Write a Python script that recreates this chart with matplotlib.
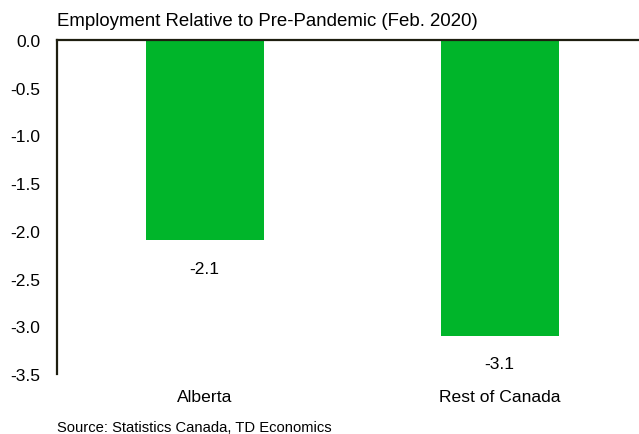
import matplotlib.pyplot as plt

plt.rcParams['font.family'] = ['Liberation Sans', 'DejaVu Sans']

# Employment change since Feb. 2020, percent
regions = ["Alberta", "Rest of Canada"]
change = [-2.1, -3.1]
yticks = [0.0, -0.5, -1.0, -1.5, -2.0, -2.5, -3.0, -3.5]

fig = plt.figure(figsize=(6.39, 4.35), dpi=100)
ax = fig.add_axes([57 / 639, 60 / 435, 590 / 639, 334 / 435])

x = range(len(regions))
ax.bar(x, change, width=0.4, color="#00b52a", zorder=2)

for xi, v in zip(x, change):
    ax.annotate(f"{v:.1f}", (xi, v), xytext=(0, -20), textcoords="offset points",
                ha="center", va="center", fontsize=12.5)

ax.set_xlim(-0.5, 1.5)
ax.set_ylim(-3.5, 0.0)
ax.set_yticks(yticks)
ax.set_yticklabels([f"{t:.1f}" for t in yticks], fontsize=12.5)
ax.set_xticks(list(x))
ax.set_xticklabels(regions, fontsize=12.6)
ax.tick_params(axis="both", length=0)
ax.tick_params(axis="y", pad=12)
ax.tick_params(axis="x", pad=11)

for s in ["right", "bottom"]:
    ax.spines[s].set_visible(False)
ax.spines["left"].set_color("#1e1e10")
ax.spines["top"].set_color("#1e1e10")
ax.spines["left"].set_linewidth(1.6)
ax.spines["top"].set_linewidth(1.6)

fig.text(57 / 639, 1 - 22 / 435, "Employment Relative to Pre-Pandemic (Feb. 2020)",
         fontsize=13.4, ha="left", va="center")
fig.text(57 / 639, 1 - 428 / 435, "Source: Statistics Canada, TD Economics",
         fontsize=10.6, ha="left", va="center")

fig.savefig("out.png", dpi=100)
